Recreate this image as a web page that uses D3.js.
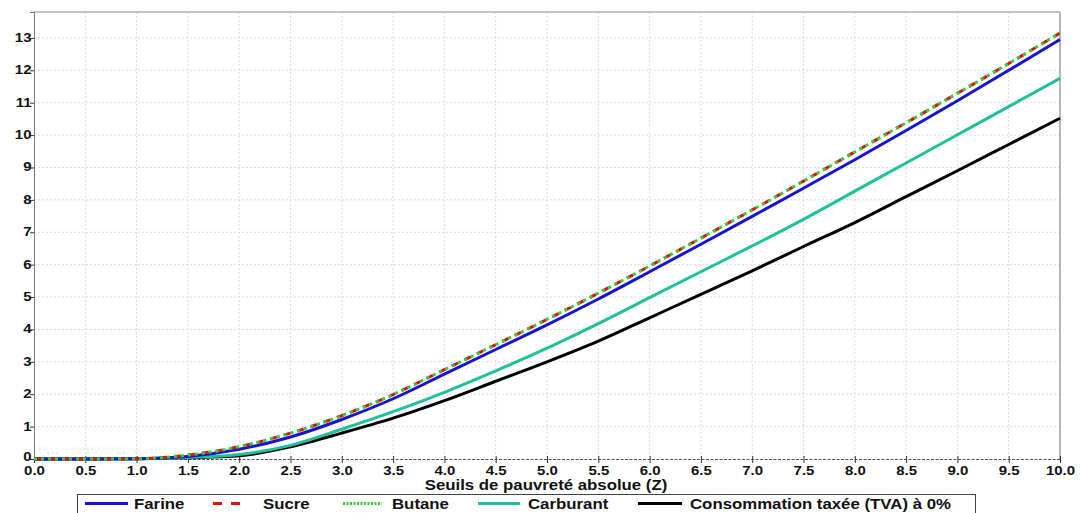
<!DOCTYPE html>
<html>
<head>
<meta charset="utf-8">
<script src="https://cdn.jsdelivr.net/npm/d3@7"></script>
<style>
  html, body { margin: 0; padding: 0; background: #ffffff; }
  svg { display: block; font-family: Arial, "Liberation Sans", sans-serif; }
  .tick text { font-weight: bold; font-size: 12.5px; fill: #111; }
</style>
</head>
<body>
<svg id="chart" width="1081" height="513"></svg>
<script>
// Seuils de pauvreté (Z) et indices par produit
const seuils = [0, 0.5, 1.0, 1.5, 2.0, 2.5, 3.0, 3.5, 4.0, 4.5, 5.0, 5.5, 6.0, 6.5, 7.0, 7.5, 8.0, 8.5, 9.0, 9.5, 10.0];
const farine = [0, 0, 0.01, 0.08, 0.30, 0.68, 1.22, 1.86, 2.62, 3.38, 4.14, 4.94, 5.78, 6.63, 7.49, 8.36, 9.24, 10.14, 11.06, 12.00, 12.95];
const sucre = [0, 0, 0.01, 0.12, 0.38, 0.80, 1.34, 1.99, 2.76, 3.53, 4.31, 5.12, 5.96, 6.82, 7.69, 8.58, 9.48, 10.38, 11.29, 12.21, 13.15];
const butane = [0, 0, 0.01, 0.12, 0.38, 0.80, 1.34, 1.99, 2.76, 3.53, 4.31, 5.12, 5.96, 6.82, 7.69, 8.58, 9.48, 10.38, 11.29, 12.21, 13.15];
const carburant = [0, 0, 0.01, 0.05, 0.14, 0.42, 0.92, 1.46, 2.06, 2.72, 3.42, 4.18, 4.98, 5.78, 6.58, 7.40, 8.27, 9.14, 10.01, 10.88, 11.75];
const consommation = [0, 0, 0.01, 0.04, 0.10, 0.38, 0.80, 1.26, 1.80, 2.40, 3.00, 3.64, 4.36, 5.08, 5.81, 6.56, 7.30, 8.10, 8.90, 9.71, 10.52];
const xTicks = d3.range(0, 10.001, 0.5);
const yTicks = d3.range(0, 14, 1);

const series = [
  { name: "Farine", values: farine, color: "#1414d2", dash: null },
  { name: "Sucre", values: sucre, color: "#e01010", dash: "7,7" },
  { name: "Butane", values: butane, color: "#33cc33", dash: "3,4" },
  { name: "Carburant", values: carburant, color: "#20c09a", dash: null },
  { name: "Consommation taxée (TVA) à 0%", values: consommation, color: "#000000", dash: null }
];

const svg = d3.select("#chart");
const plotBox = { left: 34, right: 1060, top: 12, bottom: 459 };
const stretch = 1.2; // wide lettering

const x = d3.scaleLinear().domain([0, 10]).range([plotBox.left, plotBox.right]);
const y = d3.scaleLinear().domain([0, 13.8]).range([plotBox.bottom, plotBox.top]);

// grid
const grid = svg.append("g");
grid.selectAll("line.v").data(xTicks.slice(1, -1)).join("line")
  .attr("x1", d => x(d)).attr("x2", d => x(d))
  .attr("y1", plotBox.top).attr("y2", plotBox.bottom)
  .attr("stroke", "#dcdcdc").attr("stroke-dasharray", "2,2");
grid.selectAll("line.h").data(yTicks.slice(1)).join("line")
  .attr("x1", plotBox.left).attr("x2", plotBox.right)
  .attr("y1", d => y(d)).attr("y2", d => y(d))
  .attr("stroke", "#dcdcdc").attr("stroke-dasharray", "2,2");

// frame
svg.append("line").attr("x1", plotBox.left).attr("x2", plotBox.right)
  .attr("y1", plotBox.top).attr("y2", plotBox.top)
  .attr("stroke", "#888").attr("stroke-width", 1.2);
svg.append("line").attr("x1", plotBox.right).attr("x2", plotBox.right)
  .attr("y1", plotBox.top).attr("y2", plotBox.bottom)
  .attr("stroke", "#888").attr("stroke-width", 1.2);

// axes
const xAxis = svg.append("g").attr("transform", `translate(0,${plotBox.bottom})`)
  .call(d3.axisBottom(x).tickValues(xTicks).tickFormat(d3.format(".1f")).tickSize(4).tickPadding(2));
xAxis.select(".domain").attr("stroke", "#555").attr("stroke-dasharray", "3,1.5");
xAxis.selectAll(".tick line").attr("stroke", "#333").attr("y1", -3);
xAxis.selectAll(".tick text").attr("transform", `scale(${stretch},1)`).attr("y", 7);

const yAxis = svg.append("g").attr("transform", `translate(${plotBox.left},0)`)
  .call(d3.axisLeft(y).tickValues(yTicks).tickFormat(d3.format("d")).tickSize(4).tickPadding(0));
yAxis.select(".domain").attr("stroke", "#777");
yAxis.selectAll(".tick line").attr("stroke", "#333");
yAxis.selectAll(".tick text")
  .attr("transform", `scale(${stretch},1)`)
  .attr("x", -2.5 / stretch)
  .attr("dy", d => d === 0 ? "0.1em" : "0.28em");

// axis title
svg.append("text")
  .attr("transform", `translate(546,490) scale(${stretch},1)`)
  .attr("text-anchor", "middle")
  .attr("font-weight", "bold").attr("font-size", 14).attr("fill", "#111")
  .text("Seuils de pauvreté absolue (Z)");

// curves: black drawn first, dotted green last on top of the red dash
const line = d3.line().x((d, i) => x(seuils[i])).y(d => y(d)).curve(d3.curveMonotoneX);
const plot = svg.append("g");
const drawOrder = ["Consommation taxée (TVA) à 0%", "Carburant", "Farine", "Sucre", "Butane"];
drawOrder.forEach(name => {
  const s = series.find(d => d.name === name);
  plot.append("path").datum(s.values)
    .attr("fill", "none").attr("stroke", s.color).attr("stroke-width", 3)
    .attr("stroke-dasharray", s.dash).attr("d", line);
});

// legend
const legend = svg.append("g");
legend.append("rect").attr("x", 77.5).attr("y", 494.5).attr("width", 898).attr("height", 30)
  .attr("fill", "#fff").attr("stroke", "#444").attr("stroke-width", 1);
const legendPos = [
  { x1: 85, x2: 128, tx: 134 },
  { x1: 213, x2: 247, tx: 263 },
  { x1: 343, x2: 382, tx: 392 },
  { x1: 478, x2: 520, tx: 528 },
  { x1: 638, x2: 682, tx: 690 }
];
series.forEach((s, i) => {
  const p = legendPos[i];
  legend.append("line").attr("x1", p.x1).attr("x2", p.x2).attr("y1", 503.5).attr("y2", 503.5)
    .attr("stroke", s.color).attr("stroke-width", 3)
    .attr("stroke-dasharray", s.name === "Sucre" ? "9,9" : (s.name === "Butane" ? "2,1.5" : null));
  legend.append("text")
    .attr("transform", `translate(${p.tx},508.5) scale(${stretch},1)`)
    .attr("font-weight", "bold").attr("font-size", 14).attr("fill", "#111")
    .text(s.name);
});
</script>
</body>
</html>
